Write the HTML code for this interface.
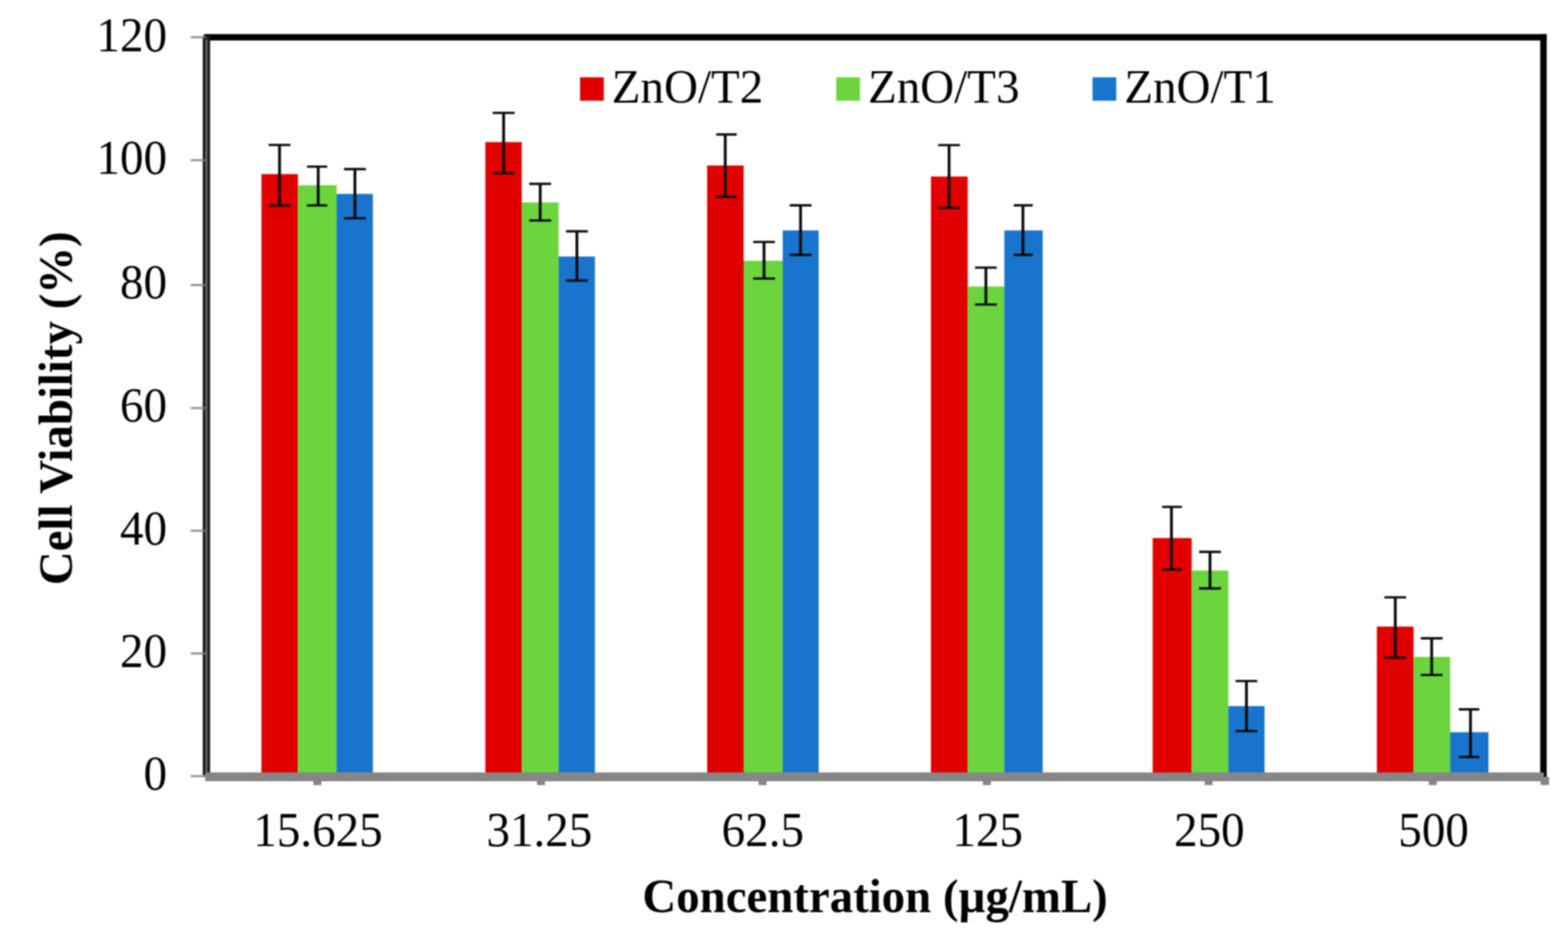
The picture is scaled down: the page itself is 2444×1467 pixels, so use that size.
<!DOCTYPE html>
<html lang="en">
<head>
<meta charset="utf-8">
<title>Cell Viability vs Concentration</title>
<style>
html,body{margin:0;padding:0;background:#fff;}
body{width:2444px;height:1467px;overflow:hidden;}
svg{display:block;filter:blur(0.9px);}
text{font-family:"Liberation Serif","DejaVu Serif",serif;font-size:73.3px;fill:#000;}
.b{font-weight:bold;font-size:73px;}
</style>
</head>
<body>
<svg width="2444" height="1467" viewBox="0 0 2444 1467">
<rect x="0" y="0" width="2444" height="1467" fill="#ffffff"/>
<g id="bars">
<rect x="407.5" y="271.4" width="56.8" height="936.6" fill="#e00000"/>
<rect x="464.3" y="288.8" width="60.4" height="919.2" fill="#6cd43c"/>
<rect x="524.7" y="302.3" width="56.5" height="905.7" fill="#1874cd"/>
<rect x="756.5" y="221.5" width="56.7" height="986.5" fill="#e00000"/>
<rect x="813.2" y="315.6" width="57.4" height="892.4" fill="#6cd43c"/>
<rect x="870.6" y="399.9" width="56.7" height="808.1" fill="#1874cd"/>
<rect x="1102.2" y="258.0" width="56.8" height="950.0" fill="#e00000"/>
<rect x="1159.0" y="406.5" width="61.0" height="801.5" fill="#6cd43c"/>
<rect x="1220.0" y="359.2" width="56.0" height="848.8" fill="#1874cd"/>
<rect x="1451.0" y="275.2" width="57.3" height="932.8" fill="#e00000"/>
<rect x="1508.3" y="446.6" width="57.1" height="761.4" fill="#6cd43c"/>
<rect x="1565.4" y="359.2" width="59.8" height="848.8" fill="#1874cd"/>
<rect x="1796.6" y="838.8" width="60.8" height="369.2" fill="#e00000"/>
<rect x="1857.4" y="889.5" width="57.2" height="318.5" fill="#6cd43c"/>
<rect x="1914.6" y="1100.8" width="56.4" height="107.2" fill="#1874cd"/>
<rect x="2146.1" y="976.8" width="57.2" height="231.2" fill="#e00000"/>
<rect x="2203.3" y="1024.1" width="57.0" height="183.9" fill="#6cd43c"/>
<rect x="2260.3" y="1141.5" width="59.7" height="66.5" fill="#1874cd"/>
</g>
<g id="errorbars" stroke="#0a0a0a" fill="none">
<path stroke-width="3.6" d="M418.7 226.0H452.7M418.7 320.4H452.7"/>
<path stroke-width="4.4" d="M435.7 225.8V320.2"/>
<path stroke-width="3.6" d="M478.5 259.8H510.0M478.5 320.2H510.0"/>
<path stroke-width="4.4" d="M496.0 259.6V320.0"/>
<path stroke-width="3.6" d="M536.2 263.6H570.2M536.2 340.2H570.2"/>
<path stroke-width="4.4" d="M553.2 263.4V340.0"/>
<path stroke-width="3.6" d="M768.0 176.0H802.0M768.0 270.0H802.0"/>
<path stroke-width="4.4" d="M785.0 175.8V269.8"/>
<path stroke-width="3.6" d="M825.0 286.6H859.0M825.0 343.7H859.0"/>
<path stroke-width="4.4" d="M842.0 286.4V343.5"/>
<path stroke-width="3.6" d="M882.2 360.6H916.2M882.2 437.4H916.2"/>
<path stroke-width="4.4" d="M899.2 360.4V437.2"/>
<path stroke-width="3.6" d="M1116.4 209.6H1148.3M1116.4 306.6H1148.3"/>
<path stroke-width="4.4" d="M1130.4 209.4V306.4"/>
<path stroke-width="3.6" d="M1173.9 377.3H1207.9M1173.9 434.2H1207.9"/>
<path stroke-width="4.4" d="M1190.9 377.1V434.0"/>
<path stroke-width="3.6" d="M1230.8 320.1H1264.8M1230.8 397.4H1264.8"/>
<path stroke-width="4.4" d="M1247.8 319.9V397.2"/>
<path stroke-width="3.6" d="M1462.3 226.3H1496.3M1462.3 324.0H1496.3"/>
<path stroke-width="4.4" d="M1479.3 226.1V323.8"/>
<path stroke-width="3.6" d="M1519.7 417.3H1553.7M1519.7 474.8H1553.7"/>
<path stroke-width="4.4" d="M1536.7 417.1V474.6"/>
<path stroke-width="3.6" d="M1580.1 320.1H1609.7M1580.1 397.4H1609.7"/>
<path stroke-width="4.4" d="M1594.4 319.9V397.2"/>
<path stroke-width="3.6" d="M1811.4 790.3H1842.2M1811.4 887.7H1842.2"/>
<path stroke-width="4.4" d="M1825.9 790.1V887.5"/>
<path stroke-width="3.6" d="M1869.0 860.4H1903.0M1869.0 917.4H1903.0"/>
<path stroke-width="4.4" d="M1886.0 860.2V917.2"/>
<path stroke-width="3.6" d="M1925.8 1061.8H1959.8M1925.8 1139.7H1959.8"/>
<path stroke-width="4.4" d="M1942.8 1061.6V1139.5"/>
<path stroke-width="3.6" d="M2157.8 931.2H2191.8M2157.8 1025.2H2191.8"/>
<path stroke-width="4.4" d="M2174.8 931.0V1025.0"/>
<path stroke-width="3.6" d="M2214.5 995.1H2248.5M2214.5 1052.3H2248.5"/>
<path stroke-width="4.4" d="M2231.5 994.9V1052.1"/>
<path stroke-width="3.6" d="M2273.8 1105.9H2305.8M2273.8 1180.1H2305.8"/>
<path stroke-width="4.4" d="M2292.0 1105.7V1179.9"/>
</g>
<g id="frame">
<rect x="318" y="53.2" width="2092.8" height="9.9" fill="#000"/>
<rect x="2400.7" y="53.2" width="10.1" height="1158" fill="#000"/>
<rect x="316" y="56" width="11.5" height="1152" fill="#1c1c1c"/>
<rect x="320.2" y="62" width="3" height="1144" fill="#6c6c6c"/>
<rect x="297.3" y="56.4" width="19.5" height="3.2" fill="#909090"/>
<rect x="316.8" y="56.4" width="4.6" height="3.2" fill="#6a6a6a"/>
<rect x="297.3" y="248.1" width="19.5" height="3.2" fill="#909090"/>
<rect x="316.8" y="248.1" width="4.6" height="3.2" fill="#6a6a6a"/>
<rect x="297.3" y="442.8" width="19.5" height="3.2" fill="#909090"/>
<rect x="316.8" y="442.8" width="4.6" height="3.2" fill="#6a6a6a"/>
<rect x="297.3" y="634.5" width="19.5" height="3.2" fill="#909090"/>
<rect x="316.8" y="634.5" width="4.6" height="3.2" fill="#6a6a6a"/>
<rect x="297.3" y="825.8" width="19.5" height="3.2" fill="#909090"/>
<rect x="316.8" y="825.8" width="4.6" height="3.2" fill="#6a6a6a"/>
<rect x="297.3" y="1017.1" width="19.5" height="3.2" fill="#909090"/>
<rect x="316.8" y="1017.1" width="4.6" height="3.2" fill="#6a6a6a"/>
<rect x="297.3" y="1208.4" width="19.5" height="3.2" fill="#909090"/>
<rect x="316.8" y="1208.4" width="4.6" height="3.2" fill="#6a6a6a"/>
<rect x="320" y="1204.2" width="2086.5" height="13.8" fill="#868686"/>
<rect x="488.5" y="1210" width="12.4" height="14" fill="#868686"/>
<rect x="837.0" y="1210" width="12.4" height="14" fill="#868686"/>
<rect x="1182.4" y="1210" width="12.4" height="14" fill="#868686"/>
<rect x="1532.0" y="1210" width="12.4" height="14" fill="#868686"/>
<rect x="1877.6" y="1210" width="12.4" height="14" fill="#868686"/>
<rect x="2227.0" y="1210" width="12.4" height="14" fill="#868686"/>
<rect x="2401.3" y="1211" width="13.2" height="12.8" fill="#868686"/>
</g>
<g id="ylabels" text-anchor="end">
<text transform="translate(260.3 80.3) scale(1 1.04)">120</text>
<text transform="translate(260.3 271.2) scale(1 1.04)">100</text>
<text transform="translate(260.3 464.9) scale(1 1.04)">80</text>
<text transform="translate(260.3 656.5) scale(1 1.04)">60</text>
<text transform="translate(260.3 848.6) scale(1 1.04)">40</text>
<text transform="translate(260.3 1040.2) scale(1 1.04)">20</text>
<text transform="translate(260.3 1230.6) scale(1 1.04)">0</text>
</g>
<g id="xlabels" text-anchor="middle">
<text transform="translate(495.6 1318.8) scale(1 1.04)">15.625</text>
<text transform="translate(840.7 1318.8) scale(1 1.04)">31.25</text>
<text transform="translate(1189.0 1318.8) scale(1 1.04)">62.5</text>
<text transform="translate(1539.5 1318.8) scale(1 1.04)">125</text>
<text transform="translate(1885.0 1318.8) scale(1 1.04)">250</text>
<text transform="translate(2234.5 1318.8) scale(1 1.04)">500</text>
</g>
<g id="legend">
<rect x="904.1" y="120.5" width="37" height="36.5" fill="#e00000"/>
<text x="953.6" y="160">ZnO/T2</text>
<rect x="1303.4" y="120.5" width="37" height="36.5" fill="#6cd43c"/>
<text x="1352.9" y="160">ZnO/T3</text>
<rect x="1702.9" y="120.5" width="37" height="36.5" fill="#1874cd"/>
<text x="1752.4" y="160">ZnO/T1</text>
</g>
<text class="b" text-anchor="middle" x="1364" y="1422">Concentration (µg/mL)</text>
<text class="b" text-anchor="middle" transform="translate(112 636.5) rotate(-90)">Cell Viability (%)</text>
</svg>
</body>
</html>
